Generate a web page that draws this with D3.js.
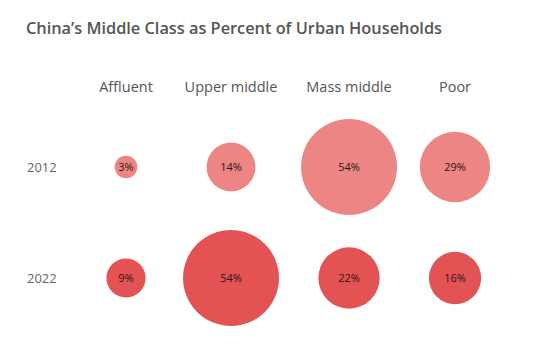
<!DOCTYPE html>
<html>
<head>
<meta charset="utf-8">
<script src="https://cdn.jsdelivr.net/npm/d3@7"></script>
<style>
  body { margin: 0; background: #fff; }
  text { font-family: "Open Sans", "Noto Sans", sans-serif; }
</style>
</head>
<body>
<div id="plot"></div>
<script>
const w = 551;
const h = 354;

const categories = ["Affluent", "Upper middle", "Mass middle", "Poor"];
const years = ["2012", "2022"];
const values2012 = [3, 14, 54, 29];
const values2022 = [9, 54, 22, 16];
const colors = ["#ec8583", "#e35353"];

const data = [];
years.forEach((yr, i) => {
  const vals = i === 0 ? values2012 : values2022;
  vals.forEach((v, j) => data.push({ year: yr, cat: categories[j], value: v }));
});

const svg = d3.select("div#plot")
  .append("svg")
  .attr("width", w)
  .attr("height", h);

// columns are not evenly spaced in the original layout
const xScale = d3.scaleOrdinal()
  .domain(categories)
  .range([126, 231, 349, 455]);

const yScale = d3.scalePoint()
  .domain(years)
  .range([167, 278]);

const rScale = d3.scaleSqrt()
  .domain([0, 54])
  .range([0, 48]);

const colorScale = d3.scaleOrdinal()
  .domain(years)
  .range(colors);

// title
const title = svg.append("text")
  .attr("x", 26)
  .attr("y", 34)
  .attr("font-size", "17px")
  .attr("font-weight", 600)
  .attr("fill", "#555")
  .text("China\u2019s Middle Class as Percent of Urban Households");
const tw = title.node().getComputedTextLength();
if (Math.abs(tw - 416) > 4) title.attr("textLength", 416).attr("lengthAdjust", "spacingAndGlyphs");

// column headers
svg.selectAll("text.col")
  .data(categories)
  .enter()
  .append("text")
  .attr("class", "col")
  .attr("x", d => xScale(d))
  .attr("y", 92)
  .attr("text-anchor", "middle")
  .attr("font-size", "14.5px")
  .attr("fill", "#555")
  .text(d => d);

// row labels
svg.selectAll("text.row")
  .data(years)
  .enter()
  .append("text")
  .attr("class", "row")
  .attr("x", 27)
  .attr("y", d => yScale(d))
  .attr("dy", "0.35em")
  .attr("font-size", "13px")
  .attr("fill", "#666")
  .text(d => d);

// bubbles
svg.selectAll("circle")
  .data(data)
  .enter()
  .append("circle")
  .attr("cx", d => xScale(d.cat))
  .attr("cy", d => yScale(d.year))
  .attr("r", d => rScale(d.value))
  .attr("fill", d => colorScale(d.year));

svg.selectAll("text.val")
  .data(data)
  .enter()
  .append("text")
  .attr("class", "val")
  .attr("x", d => xScale(d.cat))
  .attr("y", d => yScale(d.year))
  .attr("dy", "0.35em")
  .attr("text-anchor", "middle")
  .attr("font-size", "11px")
  .attr("fill", "#2a1515")
  .text(d => d.value + "%");
</script>
</body>
</html>
